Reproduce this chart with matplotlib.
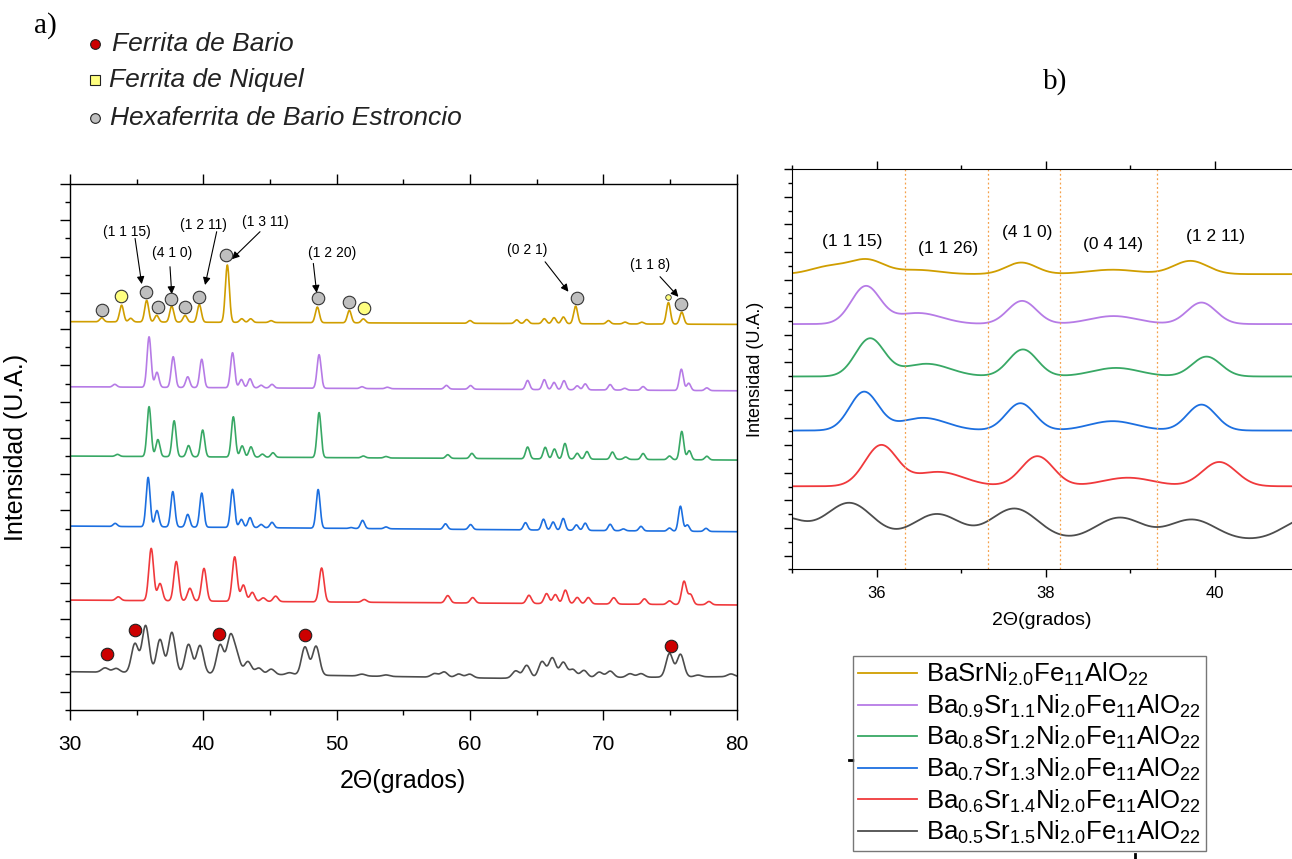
import numpy as np
import matplotlib
matplotlib.use('Agg')
import matplotlib.pyplot as plt
from matplotlib.ticker import FixedLocator, MultipleLocator
from matplotlib.lines import Line2D

plt.rcParams['font.family'] = ['Liberation Sans', 'DejaVu Sans']
plt.rcParams['mathtext.fontset'] = 'custom'
plt.rcParams['mathtext.rm'] = 'Liberation Sans'
plt.rcParams['mathtext.it'] = 'Liberation Sans:italic'
plt.rcParams['mathtext.default'] = 'regular'

# ---------------- data ----------------
labels = [r'BaSrNi$_{2.0}$Fe$_{11}$AlO$_{22}$',
          r'Ba$_{0.9}$Sr$_{1.1}$Ni$_{2.0}$Fe$_{11}$AlO$_{22}$',
          r'Ba$_{0.8}$Sr$_{1.2}$Ni$_{2.0}$Fe$_{11}$AlO$_{22}$',
          r'Ba$_{0.7}$Sr$_{1.3}$Ni$_{2.0}$Fe$_{11}$AlO$_{22}$',
          r'Ba$_{0.6}$Sr$_{1.4}$Ni$_{2.0}$Fe$_{11}$AlO$_{22}$',
          r'Ba$_{0.5}$Sr$_{1.5}$Ni$_{2.0}$Fe$_{11}$AlO$_{22}$']
colors = ['#d09e00', '#b67be6', '#38a865', '#1c6fe0', '#f0393c', '#4d4d4d']

# panel a: peak positions (deg), heights (a.u.), baseline nodes
s10_pos = [32.38, 33.87, 34.55, 35.75, 36.5, 37.63, 38.63, 39.7, 41.8, 42.88, 43.55, 45.08,
           48.55, 50.95, 52.0, 60.0, 63.5, 64.25, 65.57, 66.3, 67.0, 67.92, 70.38, 71.63,
           72.88, 74.88, 75.88]
s10_h = [0.22, 0.92, 0.2, 1.19, 0.37, 0.88, 0.37, 0.97, 3.16, 0.2, 0.2, 0.1,
         0.86, 0.68, 0.22, 0.15, 0.2, 0.22, 0.27, 0.33, 0.37, 0.97, 0.18, 0.1,
         0.1, 1.19, 0.66]
s10_base = [21.41, 21.26]

s09_pos = [33.36, 35.93, 36.52, 37.74, 38.83, 39.88, 42.19, 42.85, 43.5, 44.33, 45.15, 48.68,
           51.9, 53.8, 58.23, 60.04, 64.32, 65.57, 66.3, 67.05, 68.04, 68.64, 70.51, 71.6,
           72.98, 75.85, 76.4, 77.76]
s09_h = [0.15, 2.78, 0.83, 1.69, 0.59, 1.56, 1.93, 0.46, 0.5, 0.15, 0.2, 1.85,
         0.1, 0.08, 0.2, 0.2, 0.5, 0.55, 0.4, 0.5, 0.22, 0.33, 0.3, 0.1,
         0.2, 1.17, 0.4, 0.15]
s09_base = [17.82, 17.6]

s08_pos = [33.56, 35.93, 36.59, 37.81, 38.89, 39.95, 42.25, 42.91, 43.57, 44.43, 45.22, 48.68,
           52.0, 53.7, 58.33, 60.14, 64.32, 65.64, 66.33, 67.12, 68.04, 68.77, 70.68, 71.67,
           72.98, 74.96, 75.88, 76.44, 77.76]
s08_h = [0.11, 2.75, 0.94, 1.98, 0.62, 1.48, 2.22, 0.62, 0.57, 0.17, 0.25, 2.48,
         0.1, 0.08, 0.2, 0.28, 0.65, 0.64, 0.55, 0.86, 0.32, 0.42, 0.4, 0.13,
         0.33, 0.2, 1.56, 0.5, 0.2]
s08_base = [14.0, 13.78]

s07_pos = [33.39, 35.86, 36.52, 37.71, 38.83, 39.88, 42.19, 42.85, 43.5, 44.33, 45.15, 48.61,
           51.08, 51.94, 53.7, 58.16, 60.04, 64.16, 65.51, 66.23, 66.99, 67.98, 68.64, 70.51,
           71.5, 72.82, 74.96, 75.78, 76.3, 77.7]
s07_h = [0.17, 2.72, 0.9, 1.95, 0.7, 1.88, 2.1, 0.45, 0.55, 0.18, 0.3, 2.13,
         0.05, 0.45, 0.1, 0.3, 0.27, 0.4, 0.6, 0.45, 0.65, 0.3, 0.4, 0.35,
         0.1, 0.25, 0.17, 1.38, 0.35, 0.17]
s07_base = [10.14, 9.83]

s06_pos = [33.62, 36.09, 36.75, 37.97, 38.99, 40.05, 42.35, 43.0, 43.67, 44.49, 45.42, 48.87,
           52.07, 58.33, 60.2, 64.42, 65.74, 66.4, 67.15, 68.04, 68.87, 70.78, 73.08, 74.96,
           76.05, 76.54, 77.92]
s06_h = [0.2, 2.88, 0.95, 2.17, 0.7, 1.8, 2.45, 0.9, 0.5, 0.2, 0.3, 1.87,
         0.15, 0.4, 0.3, 0.45, 0.55, 0.5, 0.75, 0.35, 0.35, 0.35, 0.3, 0.2,
         1.28, 0.55, 0.18]
s06_base = [6.06, 5.79]

s05_pos = [32.63, 33.46, 34.87, 35.67, 36.75, 37.64, 38.89, 39.75, 41.26, 42.02, 42.5, 43.34,
           44.16, 45.09, 46.47, 47.62, 48.45, 51.9, 53.7, 57.34, 58.06, 59.15, 59.97, 63.43,
           64.25, 65.4, 66.17, 66.99, 67.71, 68.54, 69.69, 70.51, 72.0, 72.82, 74.96, 75.78,
           77.1, 79.57]
s05_h = [0.24, 0.22, 1.6, 2.6, 1.85, 2.25, 1.6, 1.55, 1.6, 2.0, 1.0, 0.7,
         0.35, 0.3, 0.12, 1.55, 1.6, 0.1, 0.08, 0.2, 0.3, 0.2, 0.2, 0.4,
         0.7, 0.9, 1.1, 0.85, 0.45, 0.4, 0.3, 0.35, 0.2, 0.2, 1.3, 1.25,
         0.1, 0.15]
s05_base_x = [30, 50, 62, 80]
s05_base = [2.11, 1.9, 1.75, 1.84]

# phase markers (panel a)
hexa_x = [32.43, 35.7, 36.63, 37.55, 38.63, 39.7, 41.7, 48.63, 50.95, 68.0, 75.83]
hexa_y = [22.05, 23.03, 22.23, 22.64, 22.23, 22.78, 25.08, 22.73, 22.49, 22.73, 22.38]
niq_x = [33.83, 52.05]
niq_y = [22.82, 22.17]
niq_small_x = [74.83]
niq_small_y = [22.77]
bario_x = [32.8, 34.87, 41.2, 47.62, 75.06]
bario_y = [3.08, 4.41, 4.18, 4.13, 3.52]

# hkl annotations (panel a): label, text position, arrow tail, arrow tip
hkl_a = ['(1 1 15)', '(4 1 0)', '(1 2 11)', '(1 3 11)', '(1 2 20)', '(0 2 1)', '(1 1 8)']
hkl_a_text = [(34.25, 26.37), (37.68, 25.21), (40.0, 26.74), (44.63, 26.92),
              (49.63, 25.21), (64.25, 25.36), (73.5, 24.53)]
hkl_a_tail = [(34.88, 26.0), (37.5, 24.44), (41.0, 26.37), (44.25, 26.37),
              (48.25, 24.62), (65.63, 24.71), (74.25, 23.89)]
hkl_a_tip = [(35.38, 23.48), (37.63, 22.93), (40.13, 23.43), (42.13, 24.85),
             (48.5, 23.0), (67.38, 23.06), (75.63, 22.78)]

# panel b (zoom 35-41 deg)
b10_pos = [35.45, 35.89, 36.49, 37.71, 38.79, 39.71]
b10_h = [0.28, 0.5, 0.15, 0.42, 0.16, 0.48]
b10_w = [0.22, 0.2, 0.25, 0.18, 0.3, 0.2]
b10_base = 10.70
b09_pos = [35.87, 36.49, 37.72, 38.8, 39.84]
b09_h = [1.35, 0.40, 0.84, 0.29, 0.78]
b09_base = 8.89
b08_pos = [35.92, 36.59, 37.73, 38.83, 39.9]
b08_h = [1.36, 0.46, 0.98, 0.31, 0.72]
b08_base = 6.99
b07_pos = [35.85, 36.55, 37.7, 38.79, 39.84]
b07_h = [1.39, 0.46, 0.99, 0.34, 0.94]
b07_base = 5.03
b06_pos = [36.05, 36.73, 37.9, 38.97, 40.05]
b06_h = [1.46, 0.52, 1.09, 0.31, 0.88]
b06_base = 3.01
b05_pos = [34.85, 35.68, 36.71, 37.63, 38.87, 39.73, 41.1]
b05_h = [0.85, 1.35, 0.95, 1.15, 0.82, 0.75, 0.8]
b05_base = 1.05

b_guides = [36.34, 37.32, 38.17, 39.32]
hkl_b = ['(1 1 15)', '(1 1 26)', '(4 1 0)', '(0 4 14)', '(1 2 11)']
hkl_b_x = [35.71, 36.85, 37.78, 38.79, 40.0]
hkl_b_y = [11.9, 11.64, 12.2, 11.76, 12.05]


def pattern(x, pos, h, w, bx, by):
    y = np.interp(x, bx, by)
    w = np.broadcast_to(np.asarray(w, dtype=float), (len(pos),))
    for p, a, s in zip(pos, h, w):
        y = y + a * np.exp(-0.5 * ((x - p) / s) ** 2)
    return y


W, H = 1292, 859
fig = plt.figure(figsize=(W / 100, H / 100), dpi=100)

# ---------------- panel a ----------------
axa = fig.add_axes([70 / W, 1 - 710 / H, 666.7 / W, 526 / H])
xa = np.linspace(30, 80, 4000)
series_a = [(s10_pos, s10_h, 0.15, [30, 80], s10_base),
            (s09_pos, s09_h, 0.15, [30, 80], s09_base),
            (s08_pos, s08_h, 0.15, [30, 80], s08_base),
            (s07_pos, s07_h, 0.15, [30, 80], s07_base),
            (s06_pos, s06_h, 0.18, [30, 80], s06_base),
            (s05_pos, s05_h, 0.26, s05_base_x, s05_base)]
for (pos, h, w, bx, by), c in zip(series_a, colors):
    axa.plot(xa, pattern(xa, pos, h, w, bx, by), color=c, lw=1.2)

axa.plot(hexa_x, hexa_y, 'o', ms=9, mfc='#bfbfbf', mec='#333333', mew=0.8, zorder=5)
axa.plot(niq_x, niq_y, 'o', ms=9, mfc='#ffff80', mec='#333333', mew=0.8, zorder=5)
axa.plot(niq_small_x, niq_small_y, 'o', ms=4, mfc='#ffff80', mec='#333333', mew=0.6, zorder=5)
axa.plot(bario_x, bario_y, 'o', ms=9, mfc='#cc0000', mec='#222222', mew=0.8, zorder=5)

for lab, t, tail, tip in zip(hkl_a, hkl_a_text, hkl_a_tail, hkl_a_tip):
    axa.text(t[0], t[1], lab, fontsize=10, ha='center', va='center')
    axa.annotate('', xy=tip, xytext=tail,
                 arrowprops=dict(arrowstyle='-|>', color='k', lw=0.8,
                                 mutation_scale=11, shrinkA=0, shrinkB=0))

axa.set_xlim(30, 80)
axa.set_ylim(0, 29)
axa.xaxis.set_major_locator(MultipleLocator(10))
axa.xaxis.set_minor_locator(MultipleLocator(5))
axa.yaxis.set_major_locator(FixedLocator(np.arange(1, 30, 2)))
axa.yaxis.set_minor_locator(FixedLocator(np.arange(0, 29, 2)))
axa.set_yticklabels([])
axa.tick_params(which='both', direction='out', top=True, right=False, width=1.0)
axa.tick_params(which='major', length=7, labelsize=15, pad=11)
axa.tick_params(which='minor', length=3.5)
for sp in axa.spines.values():
    sp.set_linewidth(1.0)
axa.set_xlabel('2\u0398(grados)', fontsize=18, labelpad=11)
axa.set_ylabel('Intensidad (U.A.)', fontsize=18, labelpad=12)

# ---------------- panel b ----------------
axb = fig.add_axes([792 / W, 1 - 569.3 / H, 500 / W, 400 / H])
xb = np.linspace(35, 41, 1500)
series_b = [(b10_pos, b10_h, b10_w, b10_base),
            (b09_pos, b09_h, [0.17, 0.28, 0.17, 0.28, 0.17], b09_base),
            (b08_pos, b08_h, [0.17, 0.28, 0.17, 0.28, 0.17], b08_base),
            (b07_pos, b07_h, [0.17, 0.28, 0.17, 0.28, 0.17], b07_base),
            (b06_pos, b06_h, [0.19, 0.3, 0.19, 0.3, 0.2], b06_base),
            (b05_pos, b05_h, 0.28, b05_base)]
handles = []
for (pos, h, w, base), c, lab in zip(series_b, colors, labels):
    ln, = axb.plot(xb, pattern(xb, pos, h, w, [35, 41], [base, base]),
                   color=c, lw=1.3, label=lab)
    handles.append(ln)
for gx in b_guides:
    axb.axvline(gx, color='#f5a04a', ls=(0, (1.5, 2)), lw=0.9)
for lab, x, y in zip(hkl_b, hkl_b_x, hkl_b_y):
    axb.text(x, y, lab, fontsize=12.5, ha='center', va='center')

axb.set_xlim(35, 40.91)
axb.set_ylim(0, 14.5)
axb.xaxis.set_major_locator(MultipleLocator(2))
axb.xaxis.set_minor_locator(FixedLocator([35, 37, 39]))
axb.yaxis.set_major_locator(FixedLocator(np.arange(0.5, 14.6, 1)))
axb.yaxis.set_minor_locator(FixedLocator(np.arange(0, 14.6, 1)))
axb.set_yticklabels([])
axb.spines['right'].set_visible(False)
axb.tick_params(which='both', direction='out', top=True, right=False, width=1.0)
axb.tick_params(which='major', length=6, labelsize=12, pad=6)
axb.tick_params(which='minor', length=3)
axb.set_xlabel('2\u0398(grados)', fontsize=14, labelpad=8)
axb.set_ylabel('Intensidad (U.A.)', fontsize=13, labelpad=8)

leg = fig.legend(handles=handles, loc='upper left',
                 bbox_to_anchor=(853 / W, 1 - 656 / H), fontsize=18.5,
                 frameon=True, fancybox=False, edgecolor='#555555',
                 handlelength=2.3, handletextpad=0.35, labelspacing=0.17,
                 borderpad=0.2, borderaxespad=0)
leg.get_frame().set_linewidth(1.0)

# stray axis fragments peeking out around the legend box
fig.add_artist(Line2D([849 / W, 853 / W], [1 - 759.5 / H, 1 - 759.5 / H], color='k', lw=2))
fig.add_artist(Line2D([1135 / W, 1135 / W], [1 - 854 / H, 1 - 859 / H], color='k', lw=2))

# ---------------- phase key and panel letters ----------------
fig.text(45 / W, 1 - 26 / H, 'a)', fontsize=21, family='Liberation Serif',
         ha='center', va='center')
fig.text(1055 / W, 1 - 82 / H, 'b)', fontsize=21, family='Liberation Serif',
         ha='center', va='center')
key_names = ['Ferrita de Bario', 'Ferrita de Niquel', 'Hexaferrita de Bario Estroncio']
key_y = [44, 80, 118]
key_x = [112, 109, 110]
key_marker = ['o', 's', 'o']
key_fc = ['#cc0000', '#ffff80', '#bfbfbf']
for name, kx, ky, mk, fc in zip(key_names, key_x, key_y, key_marker, key_fc):
    fig.add_artist(Line2D([95 / W], [1 - ky / H], marker=mk, ms=7, mfc=fc,
                          mec='#222222', mew=0.8, ls='none'))
    fig.text(kx / W, 1 - ky / H, name, fontsize=19, style='italic',
             color='#222222', ha='left', va='center')

fig.savefig('out.png', dpi=100)
